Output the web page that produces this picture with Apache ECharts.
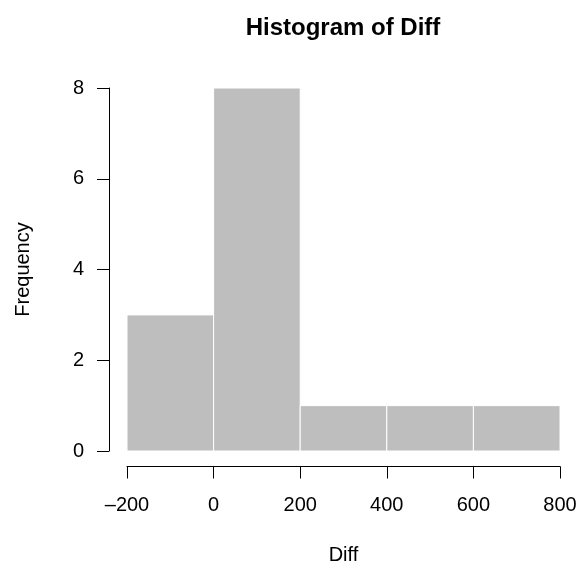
<!DOCTYPE html>
<html>
<head>
<meta charset="utf-8">
<script src="https://cdn.jsdelivr.net/npm/echarts@6/dist/echarts.min.js"></script>
<style>
html, body { margin: 0; padding: 0; background: #fff; }
#main { width: 580px; height: 564px; }
</style>
</head>
<body>
<div id="main"></div>
<script>
// histogram bins and counts
var binStart = [-200, 0, 200, 400, 600];
var binEnd = [0, 200, 400, 600, 800];
var counts = [3, 8, 1, 1, 1];
var xTicks = [-200, 0, 200, 400, 600, 800];

var font = 'Liberation Sans, Arial, Helvetica, sans-serif';
var chart = echarts.init(document.getElementById('main'), null, {renderer: 'canvas'});

var barData = binStart.map(function (s, i) {
    return [s, binEnd[i], counts[i]];
});

var option = {
    animation: false,
    backgroundColor: '#ffffff',
    title: {
        text: 'Histogram of Diff',
        left: 338,
        top: 11,
        textAlign: 'center',
        textStyle: {fontFamily: font, fontSize: 24, fontWeight: 'bold', color: '#000'}
    },
    grid: {left: 127, right: 20, top: 88, bottom: 113, containLabel: false, outerBoundsMode: 'none'},
    xAxis: {
        type: 'value',
        min: -200,
        max: 800,
        interval: 200,
        offset: 15.5,
        name: 'Diff',
        nameLocation: 'middle',
        nameGap: 79,
        nameTextStyle: {fontFamily: font, fontSize: 20, color: '#000'},
        axisLine: {show: true, onZero: false, lineStyle: {color: '#000', width: 1}},
        axisTick: {show: true, length: 12, lineStyle: {color: '#000'}},
        axisLabel: {
            margin: 29, fontFamily: font, fontSize: 20, color: '#000',
            formatter: function (v) { return xTicks.indexOf(v) >= 0 ? String(v).replace('-', '\u2013') : ''; }
        },
        splitLine: {show: false}
    },
    yAxis: {
        type: 'value',
        min: 0,
        max: 8,
        interval: 2,
        offset: 18,
        name: 'Frequency',
        nameLocation: 'middle',
        nameGap: 76,
        nameTextStyle: {fontFamily: font, fontSize: 20, color: '#000'},
        axisLine: {show: true, onZero: false, lineStyle: {color: '#000', width: 1}},
        axisTick: {show: true, length: 12, lineStyle: {color: '#000'}},
        axisLabel: {margin: 25, fontFamily: font, fontSize: 20, color: '#000'},
        splitLine: {show: false}
    },
    series: [{
        type: 'custom',
        data: barData,
        encode: {x: [0, 1], y: 2},
        renderItem: function (params, api) {
            var p0 = api.coord([api.value(0), api.value(2)]);
            var p1 = api.coord([api.value(1), 0]);
            return {
                type: 'rect',
                shape: {x: p0[0], y: p0[1], width: p1[0] - p0[0], height: p1[1] - p0[1]},
                style: {fill: '#bebebe', stroke: '#ffffff', lineWidth: 1}
            };
        }
    }]
};
chart.setOption(option);
</script>
</body>
</html>
